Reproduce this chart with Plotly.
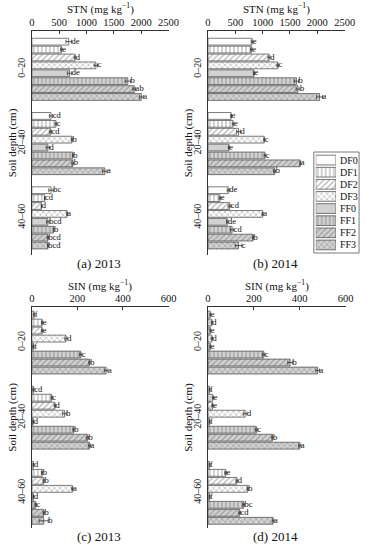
import plotly.graph_objects as go

W, H = 372, 550

treatments = ["DF0", "DF1", "DF2", "DF3", "FF0", "FF1", "FF2", "FF3"]
depths = ["0–20", "20–40", "40–60"]

# STN 2013 (mg/kg): rows = depth groups, columns = treatments
stn_2013 = [[673, 540, 790, 1171, 690, 1756, 1873, 2002],
            [351, 440, 340, 732, 293, 749, 749, 1335],
            [351, 234, 176, 644, 293, 398, 293, 293]]
stn_2013_err = [[50, 15, 15, 30, 40, 50, 25, 35],
                [30, 15, 20, 10, 30, 8, 18, 40],
                [40, 5, 5, 5, 25, 8, 12, 8]]
stn_2013_lab = [["de", "e", "d", "c", "de", "b", "ab", "a"],
                ["cd", "c", "cd", "b", "d", "b", "b", "a"],
                ["bc", "cd", "d", "a", "bcd", "b", "bcd", "bcd"]]

stn_2014 = [[806, 794, 1118, 1276, 841, 1618, 1647, 2041],
            [424, 459, 559, 1029, 382, 1041, 1688, 1218],
            [371, 218, 394, 1000, 353, 441, 824, 559]]
stn_2014_err = [[15, 15, 20, 15, 10, 40, 35, 55],
                [8, 15, 35, 8, 8, 15, 8, 20],
                [20, 15, 25, 10, 15, 30, 8, 60]]
stn_2014_lab = [["e", "e", "d", "c", "e", "b", "b", "a"],
                ["e", "e", "d", "c", "e", "c", "a", "b"],
                ["de", "e", "cd", "a", "de", "cd", "b", "c"]]

sin_2013 = [[10, 45, 45, 150, 7, 214, 253, 326],
            [7, 87, 101, 143, 6, 183, 244, 253],
            [7, 45, 52, 178, 7, 17, 52, 52]]
sin_2013_err = [[3, 3, 3, 5, 3, 5, 3, 8],
                [3, 3, 3, 8, 2, 3, 5, 5],
                [2, 3, 3, 3, 2, 3, 3, 20]]
sin_2013_lab = [["f", "e", "e", "d", "f", "c", "b", "a"],
                ["cd", "c", "d", "b", "d", "b", "b", "a"],
                ["d", "b", "b", "a", "d", "c", "b", "b"]]

sin_2014 = [[10, 17, 10, 17, 10, 243, 358, 478],
            [7, 21, 20, 162, 7, 211, 281, 400],
            [7, 77, 126, 173, 7, 155, 138, 284]]
sin_2014_err = [[2, 2, 2, 3, 2, 5, 10, 8],
                [2, 3, 3, 8, 2, 4, 3, 5],
                [2, 4, 4, 3, 2, 4, 4, 4]]
sin_2014_lab = [["e", "d", "e", "d", "e", "c", "b", "a"],
                ["f", "e", "e", "d", "f", "c", "b", "a"],
                ["f", "e", "d", "b", "f", "bc", "cd", "a"]]

fill_colors = ["white", "white", "white", "white", "#d2d2d2", "#d2d2d2", "#d2d2d2", "#d2d2d2"]
pattern_shapes = ["", "|", "/", "x", "", "|", "/", "x"]

FONT = "Liberation Serif"
GROUP_STEP = 9.4

panels = [
    dict(vals=stn_2013, err=stn_2013_err, lab=stn_2013_lab, xr=[0, 2500], dt=500,
         px=(30, 172), py=(31, 255), yr=[27.0, -1.35], title="STN (mg kg<sup>−1</sup>)", cap="(a) 2013"),
    dict(vals=stn_2014, err=stn_2014_err, lab=stn_2014_lab, xr=[0, 2500], dt=500,
         px=(213, 355), py=(31, 255), yr=[27.0, -1.35], title="STN (mg kg<sup>−1</sup>)", cap="(b) 2014"),
    dict(vals=sin_2013, err=sin_2013_err, lab=sin_2013_lab, xr=[0, 600], dt=200,
         px=(30, 172), py=(307, 528), yr=[26.7, -0.95], title="SIN (mg kg<sup>−1</sup>)", cap="(c) 2013"),
    dict(vals=sin_2014, err=sin_2014_err, lab=sin_2014_lab, xr=[0, 600], dt=200,
         px=(213, 356), py=(307, 528), yr=[26.7, -0.95], title="SIN (mg kg<sup>−1</sup>)", cap="(d) 2014"),
]

fig = go.Figure()
layout = dict()
annotations = []

for k, p in enumerate(panels):
    ax = "" if k == 0 else str(k + 1)
    xref, yref = "x" + ax, "y" + ax
    for t, tname in enumerate(treatments):
        ys = [g * GROUP_STEP + t for g in range(len(depths))]
        xs = [p["vals"][g][t] for g in range(len(depths))]
        es = [p["err"][g][t] for g in range(len(depths))]
        labs = [p["lab"][g][t] for g in range(len(depths))]
        fig.add_trace(go.Bar(
            x=xs, y=ys, orientation="h", width=0.86,
            marker=dict(color=fill_colors[t], line=dict(color="#444444", width=0.7),
                        pattern=dict(shape=pattern_shapes[t], fgcolor="#666666",
                                     bgcolor=fill_colors[t], size=4, solidity=0.3,
                                     fillmode="overlay")),
            error_x=dict(type="data", array=es, visible=True, color="#333333",
                         thickness=0.8, width=2),
            xaxis=xref, yaxis=yref, showlegend=False, name=tname))
        fig.add_trace(go.Scatter(
            x=[v + e for v, e in zip(xs, es)], y=ys, mode="text", text=labs,
            textposition="middle right", textfont=dict(family=FONT, size=8.5, color="#111"),
            xaxis=xref, yaxis=yref, showlegend=False, cliponaxis=False, hoverinfo="skip"))
    x0, x1 = p["px"]
    y0, y1 = p["py"]
    layout["xaxis" + ax] = dict(
        domain=[x0 / W, x1 / W], anchor=yref, range=p["xr"], side="top",
        tickvals=list(range(p["xr"][0], p["xr"][1] + 1, p["dt"])),
        ticks="inside", ticklen=3, tickwidth=0.8, tickcolor="#333",
        showline=True, linecolor="#333", linewidth=0.8, showgrid=False, zeroline=False,
        ticklabelstandoff=0,
        tickfont=dict(family=FONT, size=10.5, color="#111"), fixedrange=True)
    layout["yaxis" + ax] = dict(
        domain=[1 - y1 / H, 1 - y0 / H], anchor=xref, range=p["yr"],
        tickvals=[g * GROUP_STEP + 3.5 for g in range(len(depths))], ticktext=depths,
        tickangle=-90, ticks="", showline=True, linecolor="#333", linewidth=0.8,
        showgrid=False, zeroline=False, ticklabelstandoff=2,
        tickfont=dict(family=FONT, size=10, color="#111"), fixedrange=True)
    cx = (x0 + x1) / 2
    annotations.append(dict(text=p["title"], x=cx / W, y=1 - (y0 - 22) / H, xref="paper", yref="paper",
                            showarrow=False, font=dict(family=FONT, size=11, color="#111"),
                            xanchor="center", yanchor="middle"))
    annotations.append(dict(text=p["cap"], x=(cx - 1) / W, y=1 - (y1 + 8) / H, xref="paper", yref="paper",
                            showarrow=False, font=dict(family=FONT, size=13, color="#111"),
                            xanchor="center", yanchor="middle"))
    annotations.append(dict(text="Soil depth (cm)", x=(x0 - 20.5) / W, y=1 - ((y0 + y1) / 2) / H,
                            xref="paper", yref="paper", textangle=-90, showarrow=False,
                            font=dict(family=FONT, size=11, color="#111"),
                            xanchor="center", yanchor="middle"))

# Legend drawn as a small bar subplot
lx0, lx1, ly0, ly1 = 325, 346, 154, 251
for t, tname in enumerate(treatments):
    fig.add_trace(go.Bar(
        x=[1], y=[t], orientation="h", width=0.8,
        marker=dict(color=fill_colors[t], line=dict(color="#444444", width=0.7),
                    pattern=dict(shape=pattern_shapes[t], fgcolor="#666666",
                                 bgcolor=fill_colors[t], size=4, solidity=0.3,
                                 fillmode="overlay")),
        xaxis="x5", yaxis="y5", showlegend=False, name=tname))
layout["xaxis5"] = dict(domain=[lx0 / W, lx1 / W], anchor="y5", range=[0, 1], visible=False, fixedrange=True)
layout["yaxis5"] = dict(domain=[1 - ly1 / H, 1 - ly0 / H], anchor="x5", range=[7.5, -0.5], side="right",
                        tickvals=list(range(len(treatments))), ticktext=treatments, ticks="",
                        showline=False, showgrid=False, zeroline=False, ticklabelstandoff=3,
                        tickfont=dict(family=FONT, size=10, color="#111"), fixedrange=True)

shapes = [dict(type="rect", xref="paper", yref="paper", x0=323 / W, x1=370 / W,
               y0=1 - 253 / H, y1=1 - 152 / H, line=dict(color="#555", width=0.8))]

fig.update_layout(
    width=W, height=H, margin=dict(l=0, r=0, t=0, b=0),
    paper_bgcolor="white", plot_bgcolor="white", barmode="overlay",
    annotations=annotations, shapes=shapes, showlegend=False,
    font=dict(family=FONT, color="#111"), **layout)

fig.write_html("out.html", config={"displayModeBar": False},
               post_script="document.body.style.margin='0px';")
